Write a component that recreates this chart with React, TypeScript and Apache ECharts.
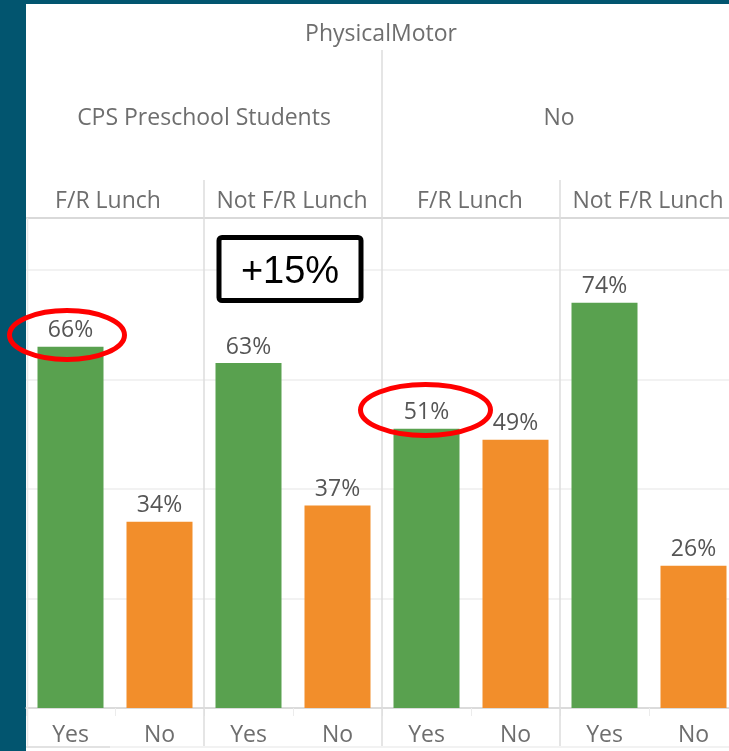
import React, { useEffect, useRef } from "react";
import * as echarts from "echarts";

const topHeader = "PhysicalMotor";
const groupHeaders = ["CPS Preschool Students", "No"];
const lunchHeaders = ["F/R Lunch", "Not F/R Lunch", "F/R Lunch", "Not F/R Lunch"];
const categories = ["Yes", "No"];
const yesValues = [66, 63, 51, 74];
const noValues = [34, 37, 49, 26];
const callout = "+15%";

const GREEN = "#59a14f";
const ORANGE = "#f28e2b";
const TEXT = "#6e6e6e";
const FONT = "'Open Sans', sans-serif";

export default function App() {
  const ref = useRef<HTMLDivElement>(null);
  useEffect(() => {
    if (!ref.current) return;
    const chart = echarts.init(ref.current, null, { renderer: "svg" });
    const panelLeft = 26;
    const panelW = 178;
    const top = 218;
    const bottom = 708;

    const grids: any[] = [];
    const xAxes: any[] = [];
    const yAxes: any[] = [];
    const series: any[] = [];
    for (let i = 0; i < 4; i++) {
      grids.push({ left: panelLeft + panelW * i, top, width: panelW, height: bottom - top });
      xAxes.push({
        type: "category",
        gridIndex: i,
        data: categories,
        axisLine: { show: true, lineStyle: { color: "#d4d4d4", width: 1.5 } },
        axisTick: { show: true, length: 8, lineStyle: { color: "#ececec" } },
        axisLabel: { color: TEXT, fontSize: 23, fontFamily: FONT, margin: 13 },
      });
      yAxes.push({
        type: "value",
        gridIndex: i,
        min: 0,
        max: 89.5,
        interval: 20,
        axisLabel: { show: false },
        axisLine: { show: false },
        axisTick: { show: false },
        splitLine: { show: true, lineStyle: { color: "#eeeeee", width: 1.5 } },
      });
      series.push({
        type: "bar",
        xAxisIndex: i,
        yAxisIndex: i,
        barWidth: 66,
        data: [
          { value: yesValues[i], itemStyle: { color: GREEN } },
          { value: noValues[i], itemStyle: { color: ORANGE } },
        ],
        label: {
          show: true,
          position: "top",
          distance: 7,
          formatter: "{c}%",
          color: "#555555",
          fontSize: 23,
          fontFamily: FONT,
        },
      });
    }

    const line = (x1: number, y1: number, x2: number, y2: number, color: string, w = 1.5) => ({
      type: "line",
      shape: { x1, y1, x2, y2 },
      style: { stroke: color, lineWidth: w },
      z: 5,
    });
    const text = (x: number, y: number, t: string, size = 23, color = TEXT, family = FONT) => ({
      type: "text",
      x,
      y,
      style: {
        text: t,
        fill: color,
        font: `${size}px ${family}`,
        align: "center",
        verticalAlign: "middle",
      },
      z: 10,
    });

    const graphic: any[] = [
      { type: "rect", shape: { x: 0, y: 0, width: 760, height: 751 }, style: { fill: "#02556f" }, z: -10 },
      { type: "rect", shape: { x: 26, y: 4, width: 734, height: 747 }, style: { fill: "#ffffff" }, z: -9 },
      line(26, 747, 760, 747, "#eeeeee", 1.5),
      line(26, 747, 110, 747, "#dddddd", 1.5),
      line(26, 218, 760, 218, "#d9d9d9", 2),
      line(27.5, 218, 27.5, 746, "#e8e8e8", 1.5),
      line(382, 50, 382, 746, "#dcdcdc", 1.5),
      line(204, 180, 204, 746, "#dcdcdc", 1.5),
      line(560, 180, 560, 746, "#dcdcdc", 1.5),
      text(381, 32, topHeader),
      text(204, 116, groupHeaders[0]),
      text(559, 116, groupHeaders[1]),
      text(108, 199, lunchHeaders[0]),
      text(292, 199, lunchHeaders[1]),
      text(470, 199, lunchHeaders[2]),
      text(648, 199, lunchHeaders[3]),
      {
        type: "rect",
        shape: { x: 219, y: 237.5, width: 142, height: 63, r: 3 },
        style: { fill: "#ffffff", stroke: "#000000", lineWidth: 5 },
        z: 20,
      },
      { ...text(290, 270, callout, 38, "#000000", "'Liberation Sans', Arial, sans-serif"), z: 21 },
      {
        type: "ellipse",
        shape: { cx: 67, cy: 335, rx: 57.5, ry: 24.5 },
        style: { fill: "none", stroke: "#ff0000", lineWidth: 5 },
        z: 30,
      },
      {
        type: "ellipse",
        shape: { cx: 425.5, cy: 410, rx: 65, ry: 25.5 },
        style: { fill: "none", stroke: "#ff0000", lineWidth: 5 },
        z: 30,
      },
    ];

    chart.setOption({
      animation: false,
      grid: grids,
      xAxis: xAxes,
      yAxis: yAxes,
      series,
      graphic,
    });
    return () => chart.dispose();
  }, []);
  return (
    <div style={{ position: "fixed", left: 0, top: 0, width: 729, height: 751, overflow: "hidden" }}>
      <div ref={ref} style={{ width: 760, height: 751 }} />
    </div>
  );
}
